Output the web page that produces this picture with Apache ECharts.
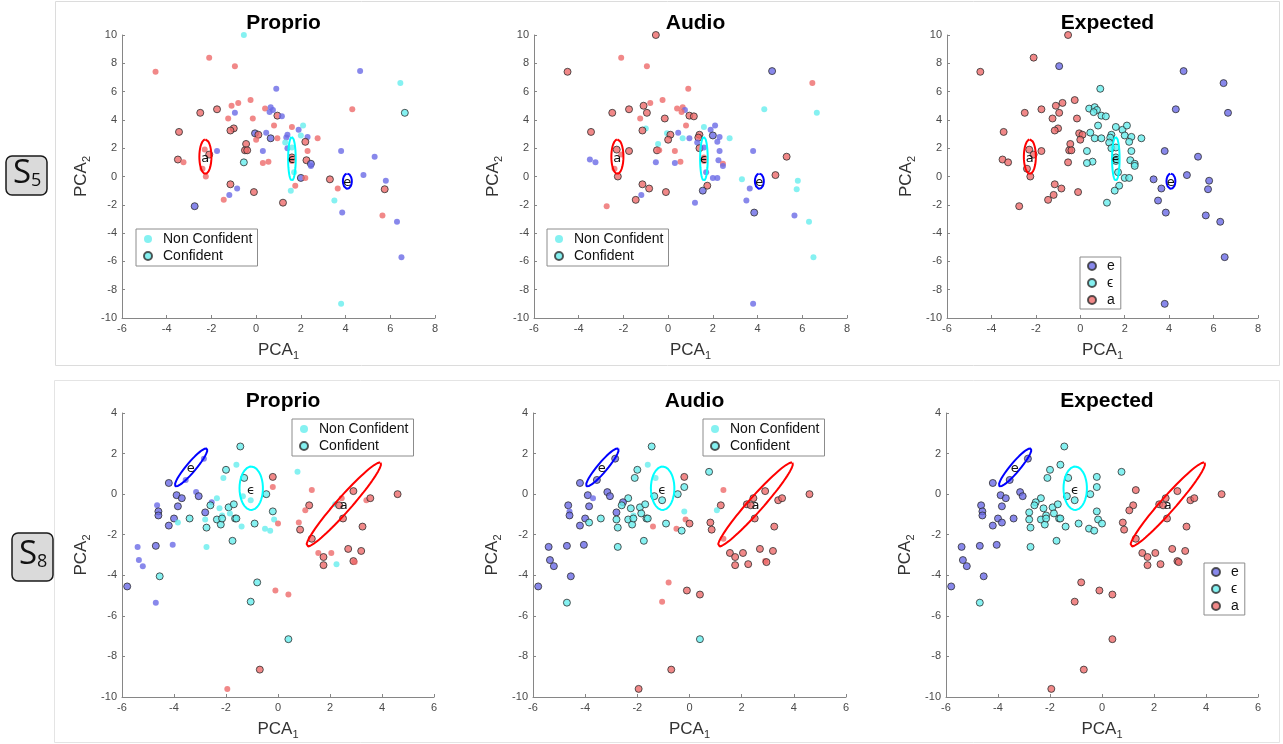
<!DOCTYPE html>
<html>
<head>
<meta charset="utf-8">
<script src="https://cdn.jsdelivr.net/npm/echarts@6/dist/echarts.min.js"></script>
<style>html,body{margin:0;padding:0;background:#fff;}#c{width:1283px;height:744px;}</style>
</head>
<body>
<div id="c"></div>
<script>
// ---------- DATA ----------
// class codes: 0 = e (blue), 1 = ϵ (cyan), 2 = a (red)
const classNames = ['e', 'ϵ', 'a'];
const rowLabels = ['5', '8'];
const panelTitles = ['Proprio', 'Audio', 'Expected'];
const s5XTicks = [-6, 8, 2];
const s5YTicks = [-10, 10, 2];
const s8XTicks = [-6, 6, 2];
const s8YTicks = [-10, 4, 2];

// S5 points
const s5X = [-4.5,-2.1,-0.55,-2.5,-1.75,-1.1,-0.8,-0.25,-1.25,-0.95,
  -0.15,-1.0,-1.15,-3.45,-0.05,0.1,0.0,-0.45,-0.5,-0.4,
  -1.75,-2.3,-2.1,-2.4,-2.25,-3.5,-3.25,-0.55,-1.15,-0.85,
  -1.2,-0.1,-1.45,-2.75,
  0.9,0.4,0.65,0.75,0.6,0.95,1.15,0.8,0.45,0.65,
  0.95,1.4,1.35,1.3,1.4,1.6,1.9,2.1,2.0,2.3,
  2.75,2.2,2.3,1.6,1.6,1.6,2.25,2.45,2.45,0.3,
  0.55,0.3,1.7,2.0,2.2,1.75,1.55,1.2,
  -0.95,4.65,6.45,4.3,6.65,3.8,5.3,4.8,3.3,5.8,
  3.65,5.75,3.5,3.85,5.65,6.3,6.5,3.8];
const s5Y = [7.4,8.4,10,4.5,4.75,5.0,5.2,5.4,4.1,4.5,
  4.1,3.4,3.25,3.15,3.05,2.95,2.6,2.3,1.85,1.85,
  1.8,1.9,1.55,0.55,0.0,1.2,1.0,1.0,-0.55,-0.85,
  -1.3,-1.1,-1.65,-2.1,
  6.2,4.8,4.9,4.7,4.55,4.3,4.25,3.6,3.1,2.7,
  2.7,2.95,2.75,2.4,2.0,3.5,3.3,3.6,2.9,2.8,
  2.7,2.45,1.8,2.05,1.35,1.1,1.15,0.9,0.75,1.8,
  1.05,0.95,0.3,-0.1,-0.1,-0.65,-1.0,-1.85,
  7.8,7.45,6.6,4.75,4.5,1.8,1.4,0.1,-0.2,-0.3,
  -0.85,-0.9,-1.7,-2.55,-2.75,-3.2,-5.7,-9.0];
const s5Expected = [2,2,2,2,2,2,2,2,2,2, 2,2,2,2,2,2,2,2,2,2, 2,2,2,2,2,2,2,2,2,2, 2,2,2,2,
  1,1,1,1,1,1,1,1,1,1, 1,1,1,1,1,1,1,1,1,1, 1,1,1,1,1,1,1,1,1,1, 1,1,1,1,1,1,1,1,
  0,0,0,0,0,0,0,0,0,0, 0,0,0,0,0,0,0,0];
const s5ProprioPred = [2,2,1,2,2,2,2,2,2,0, 2,2,2,2,0,2,2,2,2,2, 0,2,2,2,2,2,2,1,2,0, 0,2,2,0,
  0,2,0,0,0,2,0,2,0,0, 2,0,0,1,0,2,0,1,1,0, 2,2,2,1,2,2,2,0,0,0, 2,2,1,0,2,2,1,2,
  2,0,1,2,1,0,0,0,2,0, 2,2,1,0,2,0,0,1];
const s5ProprioConf = [0,0,0,1,1,0,0,0,0,0, 0,1,1,1,1,1,0,1,1,1, 0,0,1,0,0,1,0,1,1,0, 0,1,0,1,
  0,0,0,0,0,1,0,0,0,1, 0,0,0,0,0,0,0,0,0,0, 0,1,0,0,1,0,1,1,0,0, 0,0,0,1,0,0,0,1,
  0,0,0,0,1,0,0,0,1,0, 0,1,0,0,0,0,0,0];
const s5AudioPred = [2,2,2,2,2,2,2,2,2,2, 2,1,2,2,1,2,2,1,2,2, 2,2,2,2,2,0,0,0,2,2, 0,2,2,2,
  2,2,2,0,2,2,2,2,0,1, 0,2,2,0,2,1,0,0,0,0, 1,0,0,0,2,2,0,2,0,2, 2,0,0,0,0,2,0,0,
  2,0,2,1,1,0,2,2,1,1, 0,1,0,0,0,1,1,0];
const s5AudioConf = [1,0,1,1,1,1,0,0,0,1, 1,0,1,1,0,1,1,0,1,0, 1,1,0,0,1,0,0,0,1,1, 0,1,1,0,
  0,0,0,0,0,1,1,0,0,0, 0,1,1,0,1,0,0,0,1,0, 0,0,0,0,0,0,0,0,0,0, 0,0,0,0,0,1,1,0,
  0,1,0,0,0,0,1,1,0,0, 0,0,0,1,0,0,0,0];

// S8 points
const s8X = [-5.8,-5.4,-5.35,-5.2,-4.7,-4.55,-4.65,-4.6,-4.6,-4.2,
  -4.2,-4.05,-4.0,-3.9,-3.7,-3.85,-3.85,-3.4,-3.15,-3.05,
  -3.55,-2.85,
  -1.45,-1.6,-2.0,-2.1,-1.3,-0.2,-0.2,-0.45,-1.35,-1.05,
  0.75,-2.35,-2.55,-2.6,-2.8,-2.8,-2.75,-2.75,-4.7,-2.25,
  -2.35,-2.2,-2.15,-2.15,-1.9,-1.7,-1.85,-1.65,-1.6,-1.75,
  -1.4,-0.9,-0.5,-0.3,-0.2,-0.15,0.0,
  1.3,2.9,4.6,1.2,1.05,2.2,2.45,2.35,3.4,3.55,
  2.5,0.8,0.85,3.25,1.3,1.55,1.75,2.05,2.7,3.2,
  1.75,2.25,2.9,2.95,-0.8,-0.1,0.4,-1.05,0.4,-0.7,
  -1.95];
const s8Y = [-4.55,-2.6,-3.25,-3.55,-2.55,-4.05,-0.55,-0.85,-1.05,0.55,
  -1.55,-2.5,-1.2,-0.05,-0.2,-0.6,-1.4,-1.2,0.1,-0.1,
  0.7,1.75,
  2.35,1.45,1.2,0.8,0.8,0.85,0.35,0.0,-0.1,-0.3,
  1.1,-0.2,-0.4,-0.55,-0.9,-1.25,-1.65,-2.6,-5.35,-0.7,
  -1.25,-1.5,-1.05,-1.2,-0.65,-0.5,-0.95,-1.2,-1.2,-2.3,
  -1.6,-1.45,-1.7,-1.8,-0.85,-1.25,-1.45,
  0.2,0.15,0.0,-0.55,-0.8,-0.5,-0.2,-0.55,-0.3,-0.2,
  -1.2,-1.4,-1.75,-1.6,-2.2,-2.9,-3.1,-2.9,-2.7,-2.8,
  -3.5,-3.45,-3.3,-3.35,-4.35,-4.75,-4.95,-5.3,-7.15,-8.65,
  -9.6];
const s8Expected = [0,0,0,0,0,0,0,0,0,0, 0,0,0,0,0,0,0,0,0,0, 0,0,
  1,1,1,1,1,1,1,1,1,1, 1,1,1,1,1,1,1,1,1,1, 1,1,1,1,1,1,1,1,1,1, 1,1,1,1,1,1,1,
  2,2,2,2,2,2,2,2,2,2, 2,2,2,2,2,2,2,2,2,2, 2,2,2,2,2,2,2,2,2,2, 2];
const s8ProprioPred = [0,0,0,0,0,1,0,0,0,0, 0,0,0,0,0,0,1,1,0,0, 0,0,
  1,1,1,1,1,2,2,1,1,1, 1,1,0,1,0,1,1,1,0,1, 1,1,1,1,1,1,1,1,1,1, 1,1,1,1,1,1,2,
  2,2,2,2,2,1,2,2,2,2, 2,2,2,2,2,2,2,2,2,2, 2,1,2,2,1,2,2,1,1,2, 2];
const s8ProprioConf = [1,0,0,0,1,1,0,1,1,1, 1,0,1,1,1,1,0,1,0,1, 0,0,
  1,0,1,0,1,1,0,1,0,0, 0,0,0,1,1,0,1,0,0,0, 1,1,0,1,1,1,0,1,1,1, 0,1,0,0,1,0,0,
  0,1,1,1,0,0,0,1,0,1, 1,0,1,1,1,0,1,0,1,1, 1,0,1,0,1,0,0,1,1,1, 0];
const s8AudioPred = [0,0,0,0,0,0,0,0,0,0, 0,0,0,0,0,0,1,1,0,0, 0,0,
  1,1,1,1,1,2,1,1,1,1, 1,1,0,1,0,1,1,1,1,1, 1,1,1,1,1,1,1,1,1,1, 2,1,2,1,1,2,2,
  2,2,2,2,1,2,2,2,2,2, 2,2,2,2,2,2,2,2,2,2, 2,2,2,2,2,2,2,2,1,2, 2];
const s8AudioConf = [1,1,1,1,1,1,1,0,1,1, 1,1,1,1,0,1,1,1,1,1, 1,1,
  1,0,1,1,0,1,1,1,1,1, 1,1,1,1,1,1,1,1,1,1, 1,1,0,1,1,1,1,1,1,1, 0,1,0,1,0,0,1,
  0,1,1,1,0,1,1,1,1,1, 1,1,1,1,0,1,1,1,1,1, 1,1,0,1,0,1,1,0,1,1, 1];

// class ellipses (order e, ϵ, a): centre, axis vector u, axis vector v (data units)
const s5EllipseCenter = [[4.08,-0.33],[1.6,1.25],[-2.27,1.4]];
const s5EllipseU = [[0,0.54],[0,1.55],[0,1.22]];
const s5EllipseV = [[0.2,0],[0.17,0],[0.27,0]];
const s5LabelPos = [[4.07,-0.42],[1.6,1.18],[-2.28,1.28]];
const s8EllipseCenter = [[-3.34,1.32],[-1.03,0.29],[2.53,-0.51]];
const s8EllipseU = [[0.61,0.93],[0,1.07],[1.42,2.06]];
const s8EllipseV = [[0.14,-0.15],[0.45,0],[0.21,-0.24]];
const s8LabelPos = [[-3.36,1.24],[-1.04,0.16],[2.53,-0.55]];

// ---------- STYLE / LAYOUT ----------
const COLORS = ['#6a6ae6', '#66eeee', '#ee6a6a'];
const ELL_COLORS = ['#0000ff', '#00ffff', '#ff0000'];
const EDGE = '#2e2e2e';
const FONT = 'Liberation Sans, Arial, sans-serif';

const grids = [
  {left:122, top:35, width:313, height:283},
  {left:534, top:35, width:313, height:283},
  {left:947, top:35, width:311, height:283},
  {left:122, top:413, width:312, height:284},
  {left:533, top:413, width:313, height:284},
  {left:946, top:413, width:312, height:284}
];

const rows = [
  {xs:s5X, ys:s5Y, exp:s5Expected, pred:[s5ProprioPred, s5AudioPred], conf:[s5ProprioConf, s5AudioConf],
   xt:s5XTicks, yt:s5YTicks, ec:s5EllipseCenter, eu:s5EllipseU, ev:s5EllipseV, lp:s5LabelPos},
  {xs:s8X, ys:s8Y, exp:s8Expected, pred:[s8ProprioPred, s8AudioPred], conf:[s8ProprioConf, s8AudioConf],
   xt:s8XTicks, yt:s8YTicks, ec:s8EllipseCenter, eu:s8EllipseU, ev:s8EllipseV, lp:s8LabelPos}
];

function nameRich() {
  return {
    m: {fontSize: 17, color: '#333', fontFamily: FONT, lineHeight: 22},
    s: {fontSize: 11, color: '#333', fontFamily: FONT, lineHeight: 22, padding: [12, 0, 0, 0]}
  };
}

const xAxes = [], yAxes = [], series = [], titles = [];
grids.forEach((g, gi) => {
  const row = rows[Math.floor(gi / 3)];
  const axisCommon = {
    axisLine: {show: true, onZero: false, lineStyle: {color: '#868686', width: 1}},
    axisTick: {show: true, inside: true, length: 3, lineStyle: {color: '#868686'}},
    axisLabel: {color: '#4a4a4a', fontSize: 11, fontFamily: FONT, margin: 5},
    splitLine: {show: false}
  };
  xAxes.push(Object.assign({}, axisCommon, {
    type: 'value', gridIndex: gi, min: row.xt[0], max: row.xt[1], interval: row.xt[2],
    name: '{m|PCA}{s|1}', nameLocation: 'middle', nameGap: 21,
    nameTextStyle: {rich: nameRich()}
  }));
  yAxes.push(Object.assign({}, axisCommon, {
    type: 'value', gridIndex: gi, min: row.yt[0], max: row.yt[1], interval: row.yt[2],
    name: '{m|PCA}{s|2}', nameLocation: 'middle', nameGap: 30,
    nameTextStyle: {rich: nameRich()}
  }));
  const col = gi % 3;
  titles.push({
    text: panelTitles[col], left: g.left + g.width / 2, top: gi < 3 ? 8 : 386, textAlign: 'center',
    textStyle: {fontSize: 21, fontWeight: 'bold', color: '#000', fontFamily: FONT}
  });
  // points
  const isExp = col === 2;
  const pred = isExp ? row.exp : row.pred[col];
  const conf = isExp ? null : row.conf[col];
  const data = row.xs.map((x, i) => {
    const c = isExp ? 1 : conf[i];
    return {
      value: [x, row.ys[i]],
      symbolSize: c ? 7 : 6,
      itemStyle: {color: COLORS[pred[i]], borderColor: c ? EDGE : 'rgba(0,0,0,0)', borderWidth: c ? 1 : 0}
    };
  });
  series.push({type: 'scatter', xAxisIndex: gi, yAxisIndex: gi, data: data, z: 2, silent: true, animation: false});
  // ellipses
  for (let k = 0; k < 3; k++) {
    const pts = [];
    const c = row.ec[k], u = row.eu[k], v = row.ev[k];
    for (let s = 0; s <= 80; s++) {
      const t = 2 * Math.PI * s / 80;
      pts.push([c[0] + u[0] * Math.cos(t) + v[0] * Math.sin(t), c[1] + u[1] * Math.cos(t) + v[1] * Math.sin(t)]);
    }
    series.push({type: 'line', xAxisIndex: gi, yAxisIndex: gi, data: pts, showSymbol: false, symbol: 'none',
      lineStyle: {color: ELL_COLORS[k], width: 2}, z: 3, silent: true, animation: false, smooth: false});
  }
  // class labels
  series.push({type: 'scatter', xAxisIndex: gi, yAxisIndex: gi, z: 4, silent: true, animation: false,
    symbolSize: 2, itemStyle: {color: 'rgba(0,0,0,0)'},
    label: {show: true, position: 'inside', formatter: '{b}', color: '#111', opacity: 1, fontSize: 13, fontFamily: 'DejaVu Sans, sans-serif'},
    data: row.lp.map((p, k) => ({name: classNames[k], value: p}))});
});

// legend-only series
series.push({type: 'scatter', name: 'Non Confident', xAxisIndex: 0, yAxisIndex: 0, data: [],
  itemStyle: {color: COLORS[1], borderWidth: 0}});
series.push({type: 'scatter', name: 'Confident', xAxisIndex: 0, yAxisIndex: 0, data: [],
  itemStyle: {color: COLORS[1], borderColor: EDGE, borderWidth: 1}});
classNames.forEach((n, k) => series.push({type: 'scatter', name: n, xAxisIndex: 2, yAxisIndex: 2, data: [],
  itemStyle: {color: COLORS[k], borderColor: EDGE, borderWidth: 1}}));

function legendBox(names, left, top, pad) {
  return {
    data: names, left: left, top: top, orient: 'vertical', selectedMode: false,
    itemWidth: 20, itemHeight: 8, itemGap: 3, padding: pad,
    backgroundColor: '#fff', borderColor: '#8c8c8c', borderWidth: 1, borderRadius: 0,
    textStyle: {fontSize: 14, color: '#111', fontFamily: FONT}
  };
}
const confNames = ['Non Confident', 'Confident'];
const legends = [
  legendBox(confNames, 136, 229, [3, 5, 3, 7]),
  legendBox(confNames, 547, 229, [3, 5, 3, 7]),
  legendBox(classNames, 1080, 257, [2, 6, 2, 7]),
  legendBox(confNames, 292, 419, [3, 5, 3, 7]),
  legendBox(confNames, 703, 419, [3, 5, 3, 7]),
  legendBox(classNames, 1204, 563, [2, 6, 2, 7])
];

// frames and row tags
const graphic = [
  {type: 'rect', shape: {x: 55.5, y: 1.5, width: 1224, height: 364}, style: {fill: 'none', stroke: '#dcdcdc', lineWidth: 1}, z: -10},
  {type: 'rect', shape: {x: 54.5, y: 380.5, width: 1225, height: 362}, style: {fill: 'none', stroke: '#e4e4e4', lineWidth: 1}, z: -10},
  {type: 'rect', shape: {x: 6, y: 156, width: 41, height: 39, r: 6}, style: {fill: '#dadada', stroke: '#1a1a1a', lineWidth: 1.5}},
  {type: 'rect', shape: {x: 12, y: 533, width: 41, height: 48, r: 6}, style: {fill: '#dadada', stroke: '#1a1a1a', lineWidth: 1.5}},
  {type: 'text', left: 13, top: 157, style: {text: '{a|S}{b|' + rowLabels[0] + '}', rich: {
    a: {fontSize: 33, fontFamily: 'Open Sans, sans-serif', fill: '#111', lineHeight: 36},
    b: {fontSize: 18, fontFamily: 'Open Sans, sans-serif', fill: '#111', lineHeight: 36, padding: [14, 0, 0, 0]}}}},
  {type: 'text', left: 19, top: 538, style: {text: '{a|S}{b|' + rowLabels[1] + '}', rich: {
    a: {fontSize: 33, fontFamily: 'Open Sans, sans-serif', fill: '#111', lineHeight: 36},
    b: {fontSize: 18, fontFamily: 'Open Sans, sans-serif', fill: '#111', lineHeight: 36, padding: [14, 0, 0, 0]}}}}
];

const chart = echarts.init(document.getElementById('c'), null, {renderer: 'canvas'});
chart.setOption({
  backgroundColor: '#fff',
  animation: false,
  title: titles,
  grid: grids,
  xAxis: xAxes,
  yAxis: yAxes,
  legend: legends,
  series: series,
  graphic: graphic
});
</script>
</body>
</html>
